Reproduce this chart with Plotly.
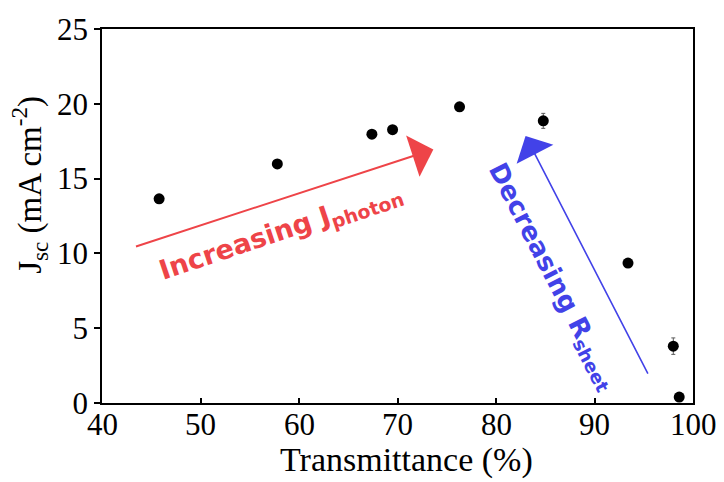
import plotly.graph_objects as go

# Data
transmittance = [45.8, 57.8, 67.4, 69.5, 76.3, 84.8, 93.4, 98.0, 98.6]
jsc = [13.65, 15.98, 17.97, 18.27, 19.8, 18.86, 9.35, 3.8, 0.4]
jsc_err = [0.15, 0.15, 0.15, 0.15, 0.15, 0.5, 0.2, 0.55, 0.15]

x_ticks = [40, 50, 60, 70, 80, 90, 100]
x_tick_labels = ["40", "50", "60", "70", "80", "90", "100"]
y_ticks = [0, 5, 10, 15, 20, 25]

RED = "rgb(238,68,72)"
BLUE = "rgb(66,66,232)"
SERIF = "Liberation Serif"
SANS = "DejaVu Sans"

fig = go.Figure()
fig.add_trace(go.Scatter(
    x=transmittance, y=jsc, mode="markers",
    marker=dict(color="black", size=11),
    error_y=dict(type="data", array=jsc_err, visible=True,
                 color="rgb(90,90,90)", thickness=1, width=2),
    showlegend=False,
))

# Arrows (tip, tail in data coordinates)
fig.add_annotation(x=73.64, y=16.95, ax=43.3, ay=10.43, axref="x", ayref="y",
                   xref="x", yref="y", text="", showarrow=True,
                   arrowhead=1, arrowsize=3.6, arrowwidth=2, arrowcolor=RED, standoff=0)
fig.add_annotation(x=83.0, y=17.85, ax=95.5, ay=1.86, axref="x", ayref="y",
                   xref="x", yref="y", text="", showarrow=True,
                   arrowhead=1, arrowsize=4.3, arrowwidth=1.6, arrowcolor=BLUE, standoff=0)

fig.add_annotation(x=58.2, y=11.4, xref="x", yref="y", showarrow=False,
                   text="<b>Increasing J<sub>photon</sub></b>", textangle=-18.5,
                   font=dict(family=SANS, size=27, color=RED))
fig.add_annotation(x=85.7, y=8.45, xref="x", yref="y", showarrow=False,
                   text="<b>Decreasing R<sub>sheet</sub></b>", textangle=62.7,
                   font=dict(family=SANS, size=26, color=BLUE))

# X tick labels (placed closer to the axis, as in the reference)
for v, lab in zip(x_ticks, x_tick_labels):
    fig.add_annotation(x=v, y=-0.058, xref="x", yref="paper", showarrow=False,
                       text=lab, xanchor="center", yanchor="middle",
                       font=dict(family=SERIF, size=31, color="black"))

# Axis titles
fig.add_annotation(x=0.516, y=-0.153, xref="paper", yref="paper", showarrow=False,
                   text="Transmittance (%)", xanchor="center", yanchor="middle",
                   font=dict(family=SERIF, size=34, color="black"))
fig.add_annotation(x=-0.122, y=0.583, xref="paper", yref="paper", showarrow=False,
                   text="J<sub>sc</sub> (mA cm<sup>-2</sup>)", textangle=-90,
                   xanchor="center", yanchor="middle",
                   font=dict(family=SERIF, size=33, color="black"))

axis_common = dict(showgrid=False, zeroline=False, showline=True, linecolor="black",
                   linewidth=1.5, mirror=True, tickcolor="black", tickwidth=1.5,
                   tickfont=dict(family=SERIF, size=31, color="black"))
fig.update_xaxes(range=[40, 100], tickvals=x_ticks, ticks="inside", ticklen=5,
                 showticklabels=False, **axis_common)
fig.update_yaxes(range=[0, 25], tickvals=y_ticks, ticks="outside", ticklen=6,
                 **axis_common)

fig.update_layout(
    width=724, height=482,
    margin=dict(l=102, r=31, t=23, b=79),
    plot_bgcolor="white", paper_bgcolor="white",
)
fig.write_html("out.html")
